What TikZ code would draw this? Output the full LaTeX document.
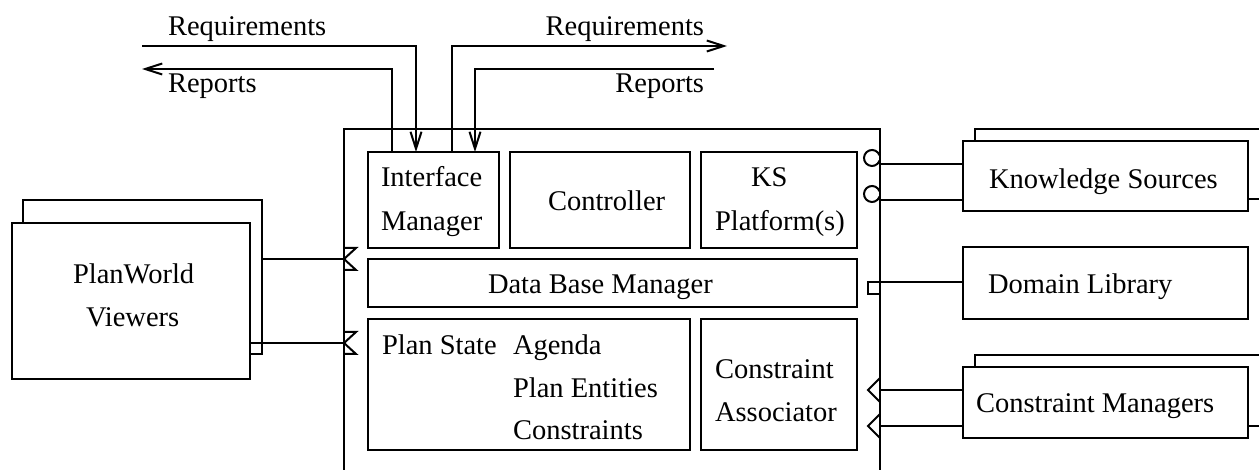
\documentclass[tikz,border=0pt]{standalone}
\usepackage{fontspec}
\setmainfont{Liberation Serif}
\usetikzlibrary{arrows.meta,positioning}

\begin{document}
\begin{tikzpicture}[x=1pt,y=-1pt,line width=2pt,
  >={Straight Barb[length=17pt,width=11pt]},
  font=\fontsize{28.5}{42}\selectfont,
  box/.style={draw,fill=white,inner sep=0pt,outer sep=0pt},
  lbl/.style={inner sep=0pt,anchor=base west}]
  \useasboundingbox (0,0) rectangle (1259,470);

  % Draw the frame of the planner (open at the bottom)
  \draw (344,470) -- (344,129) -- (880,129) -- (880,470);

  % Draw the boxes inside the frame
  \node[box,minimum width=131,minimum height=96] (im) at (433.5,200) {};
  \node[box,minimum width=180,minimum height=96] (ctrl) at (600,200) {};
  \node[box,minimum width=156,minimum height=96] (ksp) at (779,200) {};
  \node[box,minimum width=489,minimum height=48] (dbm) at (612.5,283) {};
  \node[box,minimum width=322,minimum height=131] (ps) at (529,384.5) {};
  \node[box,minimum width=156,minimum height=131] (ca) at (779,384.5) {};

  % Add the texts in the boxes
  \node[lbl] (imT1) at (380,187) {Interface};
  \node[lbl] (imT2) at (380,231) {Manager};
  \node[lbl] (ctrlT) at (547,211) {Controller};
  \node[lbl] (kspT1) at (750,187) {KS};
  \node[lbl] (kspT2) at (714,231) {Platform(s)};
  \node[lbl] (dbmT) at (487,294) {Data Base Manager};
  \node[lbl] (psT) at (381,355) {Plan State};
  \node[lbl] (agT) at (512,355) {Agenda};
  \node[lbl] (peT) at (512,397) {Plan Entities};
  \node[lbl] (cnT) at (512,439) {Constraints};
  \node[lbl] (caT1) at (714,379) {Constraint};
  \node[lbl] (caT2) at (714,421) {Associator};

  % Requirements and reports in and out of the interface manager
  \coordinate (reqinL) at (142,46);
  \coordinate (repoutL) at (142,69);
  \coordinate (reqoutR) at (727,46);
  \coordinate (repinR) at (714,69);
  \draw[->] (reqinL) -| ([xshift=-17.5]im.north);
  \draw[->] ([xshift=-41.5]im.north) |- (repoutL);
  \draw[->] ([xshift=18.5]im.north) |- (reqoutR);
  \draw[->] (repinR) -| ([xshift=41.5]im.north);
  \node[lbl] (reqT1) at (167,36) {Requirements};
  \node[lbl] (repT1) at (167,93) {Reports};
  \node[lbl,anchor=base east] (reqT2) at (705,36) {Requirements};
  \node[lbl,anchor=base east] (repT2) at (705,93) {Reports};

  % Draw the PlanWorld viewers (two stacked boxes)
  \node[box,minimum width=239,minimum height=154] (pwb) at (142.5,277) {};
  \node[box,minimum width=238,minimum height=156] (pwf) at (131,301) {};
  \node[lbl] (pwT1) at (72,284) {PlanWorld};
  \node[lbl] (pwT2) at (85,327) {Viewers};
  \coordinate (pwA) at (344,259);
  \coordinate (pwB) at (344,343);
  \draw (pwA -| pwb.east) -- (pwA);
  \draw (pwB -| pwf.east) -- (pwB);
  \foreach \p in {pwA,pwB}
    \draw (\p) ++(0,-11) -- ++(12,0) -- (\p) -- ++(12,11) -- ++(-12,0);

  % Draw the knowledge sources
  \node[box,minimum width=296,minimum height=70] (ksb) at (1123,164) {};
  \node[box,minimum width=285,minimum height=70] (ks) at (1105.5,176) {};
  \node[lbl] (ksT) at (988,189) {Knowledge Sources};
  \coordinate (ksA) at (880,164);
  \coordinate (ksB) at (880,200);
  \foreach \p in {ksA,ksB} {
    \draw (\p) -- (\p -| ks.west);
    \draw ([shift={(-8,-6)}]\p) ++(20:8pt) arc[start angle=20,end angle=340,radius=8pt];
  }

  % Draw the domain library
  \node[box,minimum width=285,minimum height=72] (dl) at (1105.5,283) {};
  \node[lbl] (dlT) at (987,294) {Domain Library};
  \coordinate (dlA) at (880,282);
  \draw (dlA) -- (dlA -| dl.west);
  \draw (dlA) rectangle ++(-12,12);

  % Draw the constraint managers
  \node[box,minimum width=296,minimum height=71] (cmb) at (1123,390.5) {};
  \node[box,minimum width=285,minimum height=71] (cm) at (1105.5,402.5) {};
  \node[lbl] (cmT) at (975,412) {Constraint Managers};
  \coordinate (cmA) at (880,390);
  \coordinate (cmB) at (880,426);
  \foreach \p in {cmA,cmB} {
    \draw (\p) -- (\p -| cm.west);
    \draw (\p) ++(0,-12) -- ++(-12,12) -- ++(12,12);
  }
\end{tikzpicture}
\end{document}
